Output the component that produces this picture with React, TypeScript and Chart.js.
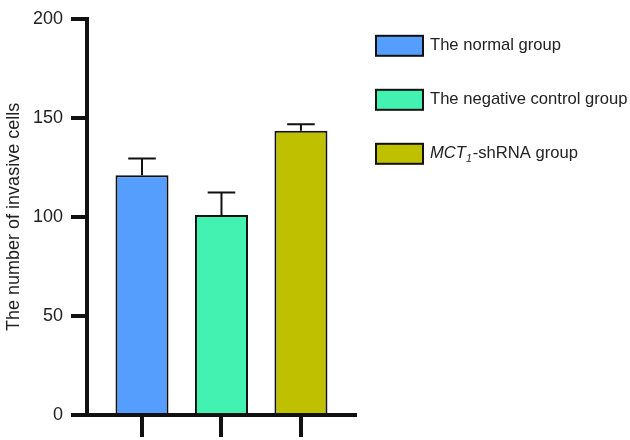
import React, { useEffect, useRef } from "react";
import { Chart, registerables } from "chart.js";

Chart.register(...registerables);

// ---- data ----
const groups = ["The normal group", "The negative control group", "MCT1-shRNA group"];
const groupPositions = [1, 2, 3];
const invasiveCells = [121, 101, 143.5];
const errorValues = [8.5, 11.3, 3.3];
const barColors = ["#559EFE", "#43F2B1", "#BFC000"];
const yTicks = [0, 50, 100, 150, 200];

// rich legend label segments (italic / subscript parts)
type Seg = { t: string; italic?: boolean; sub?: boolean };
const legendSegments: Seg[][] = [
  [{ t: "The normal group" }],
  [{ t: "The negative control group" }],
  [{ t: "MCT", italic: true }, { t: "1", italic: true, sub: true }, { t: "-shRNA group" }],
];

const FONT = "'Liberation Sans', Arial, Helvetica, sans-serif";

const errorBarPlugin = {
  id: "errorBars",
  afterDatasetsDraw(chart: any) {
    const meta = chart.getDatasetMeta(0);
    const yScale = chart.scales.y;
    const ctx = chart.ctx;
    ctx.save();
    ctx.strokeStyle = "#111";
    ctx.lineWidth = 2;
    meta.data.forEach((bar: any, i: number) => {
      const v = invasiveCells[i];
      const e = errorValues[i];
      const yTop = yScale.getPixelForValue(v + e);
      const yBar = yScale.getPixelForValue(v);
      const half = bar.width * 0.26;
      ctx.beginPath();
      ctx.moveTo(bar.x, yBar);
      ctx.lineTo(bar.x, yTop);
      ctx.moveTo(bar.x - half, yTop);
      ctx.lineTo(bar.x + half, yTop);
      ctx.stroke();
    });
    ctx.restore();
  },
};

const legendPlugin = {
  id: "richLegend",
  afterDraw(chart: any) {
    const ctx = chart.ctx;
    const area = chart.chartArea;
    const boxX = area.right + 21;
    const boxW = 47;
    const boxH = 20;
    const textX = boxX + boxW + 7;
    ctx.save();
    legendSegments.forEach((segs, i) => {
      const cy = area.top + 27 + i * 54;
      ctx.fillStyle = barColors[i];
      ctx.fillRect(boxX, cy - boxH / 2, boxW, boxH);
      ctx.strokeStyle = "#111";
      ctx.lineWidth = 2;
      ctx.strokeRect(boxX, cy - boxH / 2, boxW, boxH);
      let x = textX;
      ctx.fillStyle = "#222";
      ctx.textBaseline = "middle";
      ctx.textAlign = "left";
      segs.forEach((s) => {
        const size = s.sub ? 10.5 : 16.6;
        ctx.font = `${s.italic ? "italic " : ""}${size}px ${FONT}`;
        const y = s.sub ? cy + 5 : cy;
        ctx.fillText(s.t, x, y);
        x += ctx.measureText(s.t).width + (s.sub ? 1 : 0);
      });
    });
    ctx.restore();
  },
};

export default function App() {
  const ref = useRef<HTMLCanvasElement | null>(null);

  useEffect(() => {
    if (!ref.current) return;
    const chart = new Chart(ref.current, {
      type: "bar",
      data: {
        datasets: [
          {
            label: "The number of invasive cells",
            data: groupPositions.map((x, i) => ({ x, y: invasiveCells[i] })),
            backgroundColor: barColors,
            borderColor: "#111",
            borderWidth: 2,
            borderSkipped: "start",
            categoryPercentage: 1,
            barPercentage: 0.667,
          },
        ],
      },
      options: {
        animation: false,
        responsive: false,
        layout: { padding: { top: 16, right: 275, bottom: 3, left: 0 } },
        plugins: {
          legend: { display: false },
          tooltip: { enabled: false },
        },
        scales: {
          x: {
            type: "linear",
            min: 0.308,
            max: 3.68,
            offset: false,
            z: 1,
            afterBuildTicks: (scale: any) => {
              scale.ticks = groupPositions.map((v) => ({ value: v }));
            },
            ticks: { display: false },
            grid: {
              offset: false,
              drawOnChartArea: false,
              drawTicks: true,
              tickLength: 22,
              color: "#111",
              lineWidth: 4,
            },
            border: { display: true, color: "#111", width: 4 },
          },
          y: {
            min: 0,
            max: 200,
            z: 1,
            afterBuildTicks: (scale: any) => {
              scale.ticks = yTicks.map((v) => ({ value: v }));
            },
            afterFit: (scale: any) => {
              scale.width = 87;
            },
            ticks: {
              padding: 8,
              color: "#222",
              font: { family: FONT, size: 18 },
            },
            grid: {
              drawOnChartArea: false,
              drawTicks: true,
              tickLength: 16,
              color: "#111",
              lineWidth: 4,
            },
            border: { display: true, color: "#111", width: 4 },
            title: {
              display: true,
              text: "The number of invasive cells",
              color: "#222",
              font: { family: FONT, size: 18 },
              padding: { top: 3, bottom: 0 },
            },
          },
        },
      },
      plugins: [errorBarPlugin, legendPlugin],
    });
    return () => chart.destroy();
  }, []);

  return (
    <div style={{ position: "fixed", left: 0, top: 0, width: 630, height: 440, background: "#fff" }}>
      <canvas ref={ref} width={630} height={440} />
    </div>
  );
}
